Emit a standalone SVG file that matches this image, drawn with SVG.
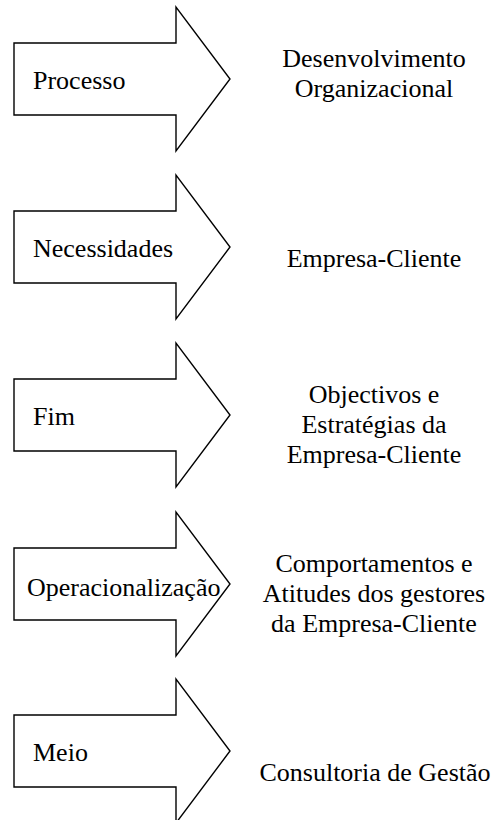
<svg xmlns="http://www.w3.org/2000/svg" width="494" height="820" viewBox="0 0 494 820">
<style>
.arrow{fill:#fff;stroke:#000;stroke-width:1.4;stroke-linejoin:miter}
text{font-family:"Liberation Serif",Tinos,"Times New Roman",Times,"Nimbus Roman","Nimbus Roman No9 L","DejaVu Serif","Noto Serif",serif;font-size:26px;fill:#000}
.r{text-anchor:middle}
</style>
<defs>
<polygon id="blk" class="arrow" points="14,36 176,36 176,0 230,72 176,144 176,108 14,108"/>
</defs>
<rect width="494" height="820" fill="#fff"/>
<g id="connectors"></g>
<g id="n1">
<use href="#blk" x="0" y="7"/>
<text x="33" y="89">Processo</text>
</g>
<g id="t1">
<text class="r" x="374" y="67">Desenvolvimento</text>
<text class="r" x="374" y="97">Organizacional</text>
</g>
<g id="n2">
<use href="#blk" x="0" y="175"/>
<text x="33" y="257">Necessidades</text>
</g>
<g id="t2">
<text class="r" x="374" y="267">Empresa-Cliente</text>
</g>
<g id="n3">
<use href="#blk" x="0" y="343"/>
<text x="33" y="425">Fim</text>
</g>
<g id="t3">
<text class="r" x="374" y="403">Objectivos e</text>
<text class="r" x="374" y="433">Estratégias da</text>
<text class="r" x="374" y="463">Empresa-Cliente</text>
</g>
<g id="n4">
<use href="#blk" x="0" y="512"/>
<text x="27" y="596">Operacionalização</text>
</g>
<g id="t4">
<text class="r" x="374" y="572">Comportamentos e</text>
<text class="r" x="374" y="602">Atitudes dos gestores</text>
<text class="r" x="374" y="632">da Empresa-Cliente</text>
</g>
<g id="n5">
<use href="#blk" x="0" y="679"/>
<text x="33" y="761">Meio</text>
</g>
<g id="t5">
<text class="r" x="375" y="781">Consultoria de Gestão</text>
</g>
</svg>
